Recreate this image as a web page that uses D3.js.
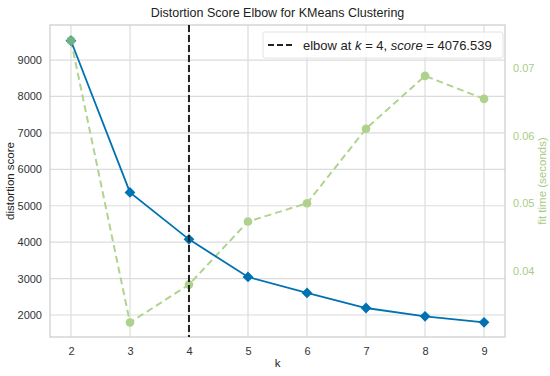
<!DOCTYPE html>
<html>
<head>
<meta charset="utf-8">
<script src="https://cdn.jsdelivr.net/npm/d3@7"></script>
<style>
  body { margin: 0; background: #fff; }
  svg text { font-family: "Liberation Sans", Arial, sans-serif; }
</style>
</head>
<body>
<div id="chart"></div>
<script>
// data
const kValues = [2, 3, 4, 5, 6, 7, 8, 9];
const distortion = [9530, 5365, 4076.539, 3045, 2605, 2192, 1965, 1800];
const fitTime = [0.0740, 0.0324, 0.0380, 0.0473, 0.0500, 0.0610, 0.0688, 0.0654];
const leftTicks = [2000, 3000, 4000, 5000, 6000, 7000, 8000, 9000];
const rightTicks = [0.04, 0.05, 0.06, 0.07];
const elbowK = 4;
const elbowScore = 4076.539;

const width = 550, height = 376;
const margin = {top: 25, right: 45, bottom: 39, left: 50};

const svg = d3.select("#chart").append("svg")
  .attr("width", width)
  .attr("height", height);

const x = d3.scaleLinear().domain([1.645, 9.355]).range([margin.left, width - margin.right]);
const y = d3.scaleLinear().domain([1396, 9962]).range([height - margin.bottom, margin.top]);
const y2 = d3.scaleLinear().domain([0.03027, 0.0763]).range([height - margin.bottom, margin.top]);

const x0 = margin.left, x1 = width - margin.right;
const yTop = margin.top, yBot = height - margin.bottom;

// grid
const grid = svg.append("g").attr("stroke", "#dcdcdc").attr("stroke-width", 1.2);
grid.selectAll(".gx").data(kValues).join("line")
  .attr("x1", d => x(d)).attr("x2", d => x(d))
  .attr("y1", yTop).attr("y2", yBot);
grid.selectAll(".gy").data(leftTicks).join("line")
  .attr("x1", x0).attr("x2", x1)
  .attr("y1", d => y(d)).attr("y2", d => y(d));

// frame
svg.append("rect")
  .attr("x", x0).attr("y", yTop)
  .attr("width", x1 - x0).attr("height", yBot - yTop)
  .attr("fill", "none").attr("stroke", "#cccccc").attr("stroke-width", 1.2);

// axes text
const xAxis = svg.append("g")
  .attr("transform", `translate(0,${yBot})`)
  .call(d3.axisBottom(x).tickValues(kValues).tickSize(0).tickPadding(10).tickFormat(d3.format("d")));
xAxis.select(".domain").remove();
xAxis.selectAll("text").attr("font-size", 11).attr("fill", "#333");

const yAxis = svg.append("g")
  .attr("transform", `translate(${x0},0)`)
  .call(d3.axisLeft(y).tickValues(leftTicks).tickSize(0).tickPadding(8).tickFormat(d3.format("d")));
yAxis.select(".domain").remove();
yAxis.selectAll("text").attr("font-size", 11).attr("fill", "#333");

const yAxis2 = svg.append("g")
  .attr("transform", `translate(${x1},0)`)
  .call(d3.axisRight(y2).tickValues(rightTicks).tickSize(0).tickPadding(8).tickFormat(d3.format(".2f")));
yAxis2.select(".domain").remove();
yAxis2.selectAll("text").attr("font-size", 11).attr("fill", "#a9cc87");

// labels
svg.append("text")
  .attr("x", (x0 + x1) / 2).attr("y", 17)
  .attr("text-anchor", "middle").attr("font-size", 12.5).attr("fill", "#222")
  .text("Distortion Score Elbow for KMeans Clustering");
svg.append("text")
  .attr("x", (x0 + x1) / 2).attr("y", 367)
  .attr("text-anchor", "middle").attr("font-size", 11.5).attr("fill", "#222")
  .text("k");
svg.append("text")
  .attr("transform", `translate(14,${(yTop + yBot) / 2}) rotate(-90)`)
  .attr("text-anchor", "middle").attr("font-size", 11.5).attr("fill", "#222")
  .text("distortion score");
svg.append("text")
  .attr("transform", `translate(546,${(yTop + yBot) / 2}) rotate(-90)`)
  .attr("text-anchor", "middle").attr("font-size", 11.5).attr("fill", "#a9cc87")
  .text("fit time (seconds)");

// fit time line (green dashed)
const lineFit = d3.line().x((d, i) => x(kValues[i])).y(d => y2(d));
svg.append("path")
  .datum(fitTime)
  .attr("d", lineFit)
  .attr("fill", "none")
  .attr("stroke", "#b0d48f")
  .attr("stroke-width", 2)
  .attr("stroke-dasharray", "7,4");
svg.append("g").selectAll("circle").data(fitTime).join("circle")
  .attr("cx", (d, i) => x(kValues[i]))
  .attr("cy", d => y2(d))
  .attr("r", 4.3)
  .attr("fill", "#aed18d");

// distortion line (blue)
const lineDist = d3.line().x((d, i) => x(kValues[i])).y(d => y(d));
svg.append("path")
  .datum(distortion)
  .attr("d", lineDist)
  .attr("fill", "none")
  .attr("stroke", "#0072b2")
  .attr("stroke-width", 1.8);
svg.append("g").selectAll("path").data(distortion).join("path")
  .attr("transform", (d, i) => `translate(${x(kValues[i])},${y(d)}) rotate(45)`)
  .attr("d", d3.symbol().type(d3.symbolSquare).size(58))
  .attr("fill", "#0072b2");

// first green marker sits on top of blue at k=2
svg.append("circle")
  .attr("cx", x(kValues[0])).attr("cy", y2(fitTime[0]))
  .attr("r", 4.3).attr("fill", "#8fbf7a").attr("opacity", 0.8);

// elbow line
svg.append("line")
  .attr("x1", x(elbowK)).attr("x2", x(elbowK))
  .attr("y1", yTop).attr("y2", yBot)
  .attr("stroke", "#222")
  .attr("stroke-width", 2)
  .attr("stroke-dasharray", "7,3");

// legend
const lg = svg.append("g");
lg.append("rect")
  .attr("x", 263).attr("y", 32).attr("width", 240).attr("height", 26)
  .attr("rx", 2)
  .attr("fill", "#fff").attr("fill-opacity", 0.85)
  .attr("stroke", "#e2e2e2");
lg.append("line")
  .attr("x1", 268).attr("x2", 292).attr("y1", 45).attr("y2", 45)
  .attr("stroke", "#222").attr("stroke-width", 2).attr("stroke-dasharray", "6,3");
const lt = lg.append("text")
  .attr("x", 303).attr("y", 50)
  .attr("font-size", 13).attr("fill", "#222");
lt.append("tspan").text("elbow at ");
lt.append("tspan").attr("font-style", "italic").text("k");
lt.append("tspan").text(` = ${elbowK}, `);
lt.append("tspan").attr("font-style", "italic").text("score");
lt.append("tspan").text(` = ${elbowScore}`);
</script>
</body>
</html>
